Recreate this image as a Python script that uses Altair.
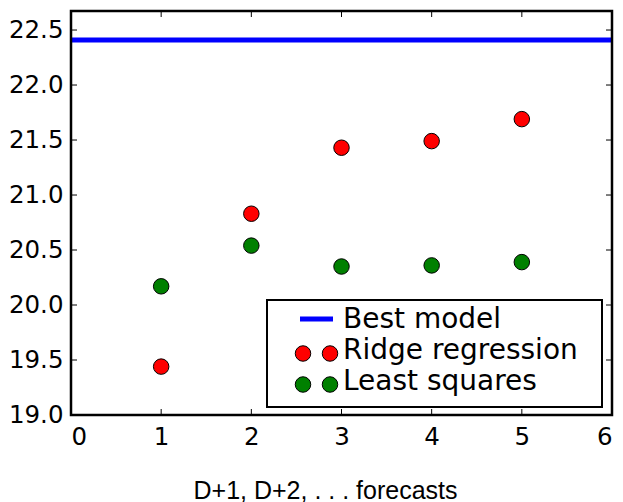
import altair as alt
import pandas as pd

# Data
horizons = [1, 2, 3, 4, 5]
ridge = [19.44, 20.83, 21.43, 21.49, 21.69]
least_squares = [20.17, 20.54, 20.35, 20.36, 20.39]
best_model = 22.41
x_ticks = [0, 1, 2, 3, 4, 5, 6]
y_ticks = [19.0, 19.5, 20.0, 20.5, 21.0, 21.5, 22.0, 22.5]
legend_labels = ["Best model", "Ridge regression", "Least squares"]

W, H = 541, 404
FONT = "DejaVu Sans"

pts = pd.DataFrame(
    {"h": horizons * 2,
     "v": ridge + least_squares,
     "s": ["Ridge regression"] * 5 + ["Least squares"] * 5}
)

xs = alt.Scale(domain=[0, 6], nice=False, zero=False)
ys = alt.Scale(domain=[19.0, 22.673], nice=False, zero=False)

xaxis = alt.Axis(values=x_ticks, format="d", ticks=False, domain=False, grid=False,
                 labelFont=FONT, labelFontSize=24.5, labelColor="black", labelPadding=10,
                 title="D+1, D+2, . . . forecasts", titleFont="Liberation Sans",
                 titleFontSize=25, titleFontWeight="normal", titleColor="black",
                 titleX=254, titleY=83, titleBaseline="alphabetic", titleAlign="center")
yaxis = alt.Axis(values=y_ticks, format=".1f", ticks=False, domain=False, grid=False,
                 labelFont=FONT, labelFontSize=24.5, labelColor="black", labelPadding=8,
                 title=None)

base_x = alt.X("h:Q", scale=xs, axis=xaxis)
base_y = alt.Y("v:Q", scale=ys, axis=yaxis)

best = alt.Chart(pd.DataFrame({"v": [best_model]})).mark_rule(
    color="#0000ff", strokeWidth=5).encode(y=base_y)

points = alt.Chart(pts).mark_circle(size=240, stroke="black", strokeWidth=1, opacity=1).encode(
    x=base_x, y=alt.Y("v:Q", scale=ys),
    color=alt.Color("s:N", scale=alt.Scale(domain=["Ridge regression", "Least squares"],
                                           range=["#ff0000", "#008000"]), legend=None))

xt = pd.DataFrame({"h": x_ticks[1:-1]})
yt = pd.DataFrame({"v": y_ticks[1:]})
tick_style = dict(color="black", strokeWidth=1)
ticks = alt.layer(
    alt.Chart(xt).mark_rule(**tick_style).encode(x=alt.X("h:Q", scale=xs), y=alt.value(H), y2=alt.value(H - 6)),
    alt.Chart(xt).mark_rule(**tick_style).encode(x=alt.X("h:Q", scale=xs), y=alt.value(0), y2=alt.value(6)),
    alt.Chart(yt).mark_rule(**tick_style).encode(y=alt.Y("v:Q", scale=ys), x=alt.value(0), x2=alt.value(6)),
    alt.Chart(yt).mark_rule(**tick_style).encode(y=alt.Y("v:Q", scale=ys), x=alt.value(W), x2=alt.value(W - 6)),
)

# Plot frame
frame = alt.Chart(pd.DataFrame({"a": [0]})).mark_rect(
    fill=None, stroke="black", strokeWidth=2.5).encode(
    x=alt.value(0), x2=alt.value(W), y=alt.value(0), y2=alt.value(H))

# Legend (drawn manually, matplotlib style with two markers per entry)
leg_box = alt.Chart(pd.DataFrame({"a": [0]})).mark_rect(
    fill="white", stroke="black", strokeWidth=2).encode(
    x=alt.value(196), x2=alt.value(531), y=alt.value(289), y2=alt.value(396))
leg_line = alt.Chart(pd.DataFrame({"a": [0]})).mark_rule(color="#0000ff", strokeWidth=5).encode(
    x=alt.value(229), x2=alt.value(262), y=alt.value(308))
leg_pts = []
for cy, col in [(342.5, "#ff0000"), (373.5, "#008000")]:
    for cx in [232, 259]:
        leg_pts.append(alt.Chart(pd.DataFrame({"a": [0]})).mark_circle(
            size=240, fill=col, stroke="black", strokeWidth=1, opacity=1).encode(
            x=alt.value(cx), y=alt.value(cy)))
leg_text = []
for lab, ty in zip(legend_labels, [317, 348, 379]):
    leg_text.append(alt.Chart(pd.DataFrame({"t": [lab]})).mark_text(
        align="left", baseline="alphabetic", font=FONT, fontSize=28, color="black").encode(
        text="t:N", x=alt.value(272), y=alt.value(ty)))

chart = alt.layer(best, points, ticks, frame, leg_box, leg_line, *leg_pts, *leg_text).properties(
    width=W, height=H,
    background="white",
    autosize=alt.AutoSizeParams(type="none"),
    padding={"left": 71, "top": 11, "right": 11, "bottom": 87},
).configure_view(stroke=None)

chart.save("out.html", embed_options={"renderer": "svg", "actions": False})
